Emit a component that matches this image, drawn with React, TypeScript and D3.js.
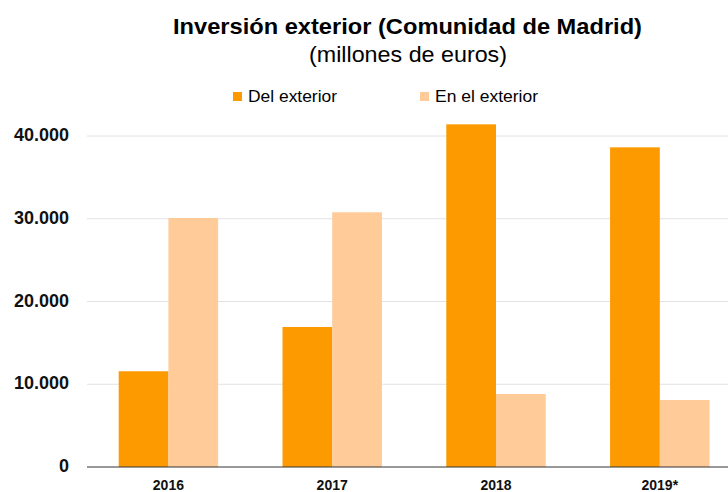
import React from "react";
import * as d3 from "d3";

const years = ["2016", "2017", "2018", "2019*"];
const delExterior = [11570, 16920, 41410, 38630];
const enElExterior = [30090, 30780, 8820, 8100];
const yTicks = [0, 10000, 20000, 30000, 40000];
const seriesNames = ["Del exterior", "En el exterior"];
const seriesColors = ["#FD9A00", "#FECB99"];

const W = 728;
const H = 492;
const font = "'Liberation Sans', Arial, Helvetica, sans-serif";

export default function App() {
  const x0 = d3.scaleBand<string>().domain(years).range([86.5, 741.7]).paddingInner(0.393).paddingOuter(0.1965);
  const x1 = d3.scaleBand<string>().domain(seriesNames).range([0, x0.bandwidth()]);
  const y = d3.scaleLinear().domain([0, 40000]).range([467, 136]);
  const fmt = (v: number) => (v === 0 ? "0" : d3.format(",")(v).replace(/,/g, "."));
  const series = [delExterior, enElExterior];
  const legendX = [233, 420];
  const legendLen = [89, 103];

  return (
    <svg width={W} height={H} style={{ position: "absolute", left: 0, top: 0, background: "#fff" }}>
      <text
        x={407.5}
        y={34}
        textAnchor="middle"
        fontFamily={font}
        fontWeight="bold"
        fontSize={22.5}
        textLength={469}
        lengthAdjust="spacingAndGlyphs"
        fill="#000"
      >
        Inversión exterior (Comunidad de Madrid)
      </text>
      <text
        x={408}
        y={62}
        textAnchor="middle"
        fontFamily={font}
        fontSize={22}
        textLength={198}
        lengthAdjust="spacingAndGlyphs"
        fill="#000"
      >
        (millones de euros)
      </text>
      {seriesNames.map((n, i) => {
        const lx = legendX[i];
        return (
          <g key={n}>
            <rect x={lx} y={92} width={9} height={9} fill={seriesColors[i]} />
            <text
              x={lx + 15}
              y={102}
              fontFamily={font}
              fontSize={17.4}
              textLength={legendLen[i]}
              lengthAdjust="spacingAndGlyphs"
              fill="#000"
            >
              {n}
            </text>
          </g>
        );
      })}
      {yTicks.map((t) => (
        <g key={t}>
          {t !== 0 && <line x1={87} x2={W} y1={y(t)} y2={y(t)} stroke="#e2e2e2" strokeWidth={1} />}
          <text x={69} y={y(t) + 5} textAnchor="end" fontFamily={font} fontWeight="bold" fontSize={18} fill="#111">
            {fmt(t)}
          </text>
        </g>
      ))}
      {years.map((yr, gi) => (
        <g key={yr} transform={`translate(${x0(yr)},0)`}>
          {series.map((s, si) => (
            <rect
              key={si}
              x={x1(seriesNames[si])}
              y={y(s[gi])}
              width={x1.bandwidth()}
              height={y(0) - y(s[gi])}
              fill={seriesColors[si]}
            />
          ))}
        </g>
      ))}
      <line x1={87} x2={W} y1={467} y2={467} stroke="#333" strokeWidth={1} />
      {years.map((yr) => (
        <text
          key={yr}
          x={(x0(yr) as number) + x0.bandwidth() / 2}
          y={490}
          textAnchor="middle"
          fontFamily={font}
          fontWeight="bold"
          fontSize={14}
          fill="#111"
        >
          {yr}
        </text>
      ))}
    </svg>
  );
}
